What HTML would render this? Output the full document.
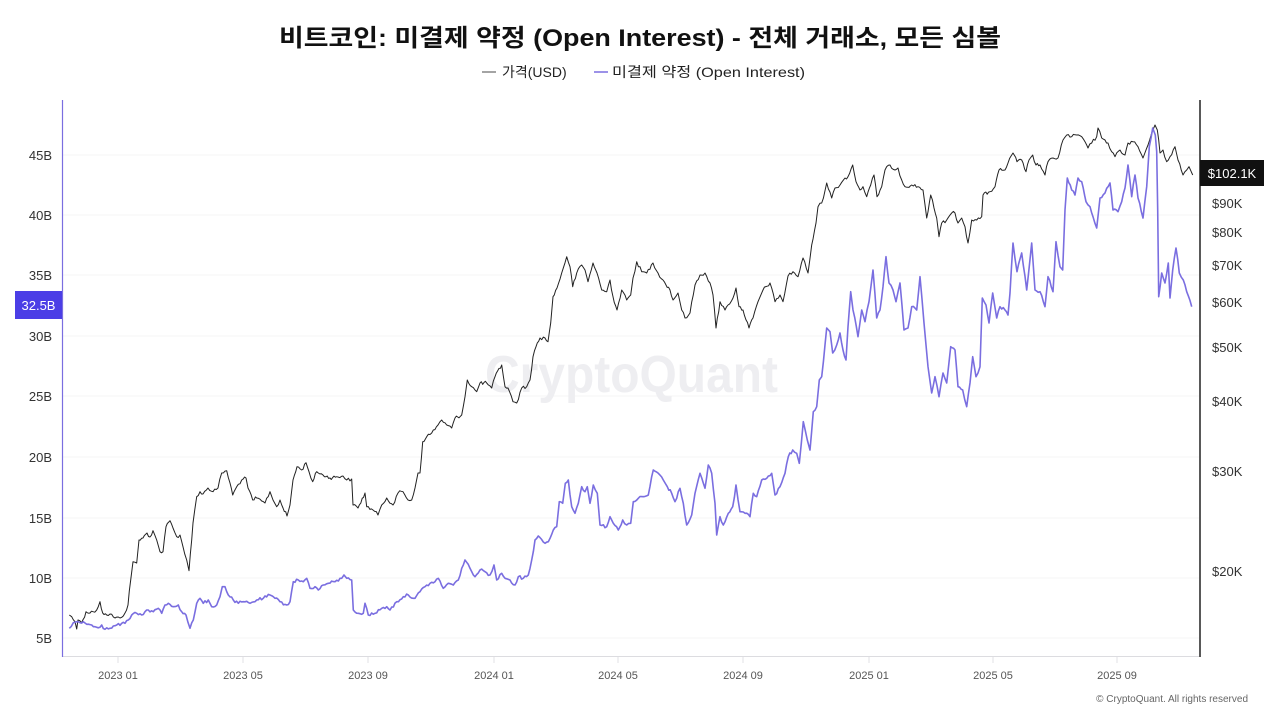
<!DOCTYPE html>
<html>
<head>
<meta charset="utf-8">
<style>
html,body{margin:0;padding:0;background:#fff;}
body{width:1280px;height:720px;overflow:hidden;}
svg{display:block;font-family:"Liberation Sans","Noto Sans CJK KR",sans-serif;}
</style>
</head>
<body>
<svg width="1280" height="720" viewBox="0 0 1280 720" xmlns="http://www.w3.org/2000/svg">
<rect width="1280" height="720" fill="#fff"/>
<!-- title -->
<text x="640" y="46" text-anchor="middle" font-size="24" font-weight="bold" fill="#111" textLength="722" lengthAdjust="spacingAndGlyphs" font-family="'Liberation Sans','Noto Sans CJK KR',sans-serif">비트코인: 미결제 약정 (Open Interest) - 전체 거래소, 모든 심볼</text>
<!-- legend -->
<line x1="482" y1="72" x2="496" y2="72" stroke="#666" stroke-width="1.2"/>
<text x="502" y="77" font-size="14" fill="#222">가격(USD)</text>
<line x1="594" y1="72" x2="608" y2="72" stroke="#7a6ee0" stroke-width="1.5"/>
<text x="612" y="77" font-size="14" fill="#222" textLength="193" lengthAdjust="spacingAndGlyphs">미결제 약정 (Open Interest)</text>

<!-- gridlines -->
<g stroke="#f4f4f6" stroke-width="1">
<line x1="63" y1="155" x2="1199" y2="155"/>
<line x1="63" y1="215" x2="1199" y2="215"/>
<line x1="63" y1="275" x2="1199" y2="275"/>
<line x1="63" y1="336" x2="1199" y2="336"/>
<line x1="63" y1="396" x2="1199" y2="396"/>
<line x1="63" y1="457" x2="1199" y2="457"/>
<line x1="63" y1="518" x2="1199" y2="518"/>
<line x1="63" y1="578" x2="1199" y2="578"/>
<line x1="63" y1="638" x2="1199" y2="638"/>
</g>
<!-- bottom axis -->
<line x1="63" y1="656.5" x2="1199" y2="656.5" stroke="#dcdce0" stroke-width="1"/>
<g stroke="#e2e2e6" stroke-width="1">
<line x1="118" y1="657" x2="118" y2="663"/>
<line x1="243" y1="657" x2="243" y2="663"/>
<line x1="368" y1="657" x2="368" y2="663"/>
<line x1="494" y1="657" x2="494" y2="663"/>
<line x1="618" y1="657" x2="618" y2="663"/>
<line x1="743" y1="657" x2="743" y2="663"/>
<line x1="869" y1="657" x2="869" y2="663"/>
<line x1="993" y1="657" x2="993" y2="663"/>
<line x1="1117" y1="657" x2="1117" y2="663"/>
</g>
<g font-size="11" fill="#555" text-anchor="middle">
<text x="118" y="679">2023 01</text>
<text x="243" y="679">2023 05</text>
<text x="368" y="679">2023 09</text>
<text x="494" y="679">2024 01</text>
<text x="618" y="679">2024 05</text>
<text x="743" y="679">2024 09</text>
<text x="869" y="679">2025 01</text>
<text x="993" y="679">2025 05</text>
<text x="1117" y="679">2025 09</text>
</g>
<text x="1248" y="702" font-size="10" fill="#666" text-anchor="end">© CryptoQuant. All rights reserved</text>

<!-- watermark -->
<text x="485" y="392" font-size="52" font-weight="bold" fill="#eeeef1" textLength="293" lengthAdjust="spacingAndGlyphs">CryptoQuant</text>

<!-- axes -->
<line x1="62.5" y1="100" x2="62.5" y2="657" stroke="#7a6ee0" stroke-width="1.2"/>
<line x1="1200" y1="100" x2="1200" y2="657" stroke="#222" stroke-width="1.5"/>

<!-- left labels -->
<g font-size="13" fill="#333" text-anchor="end">
<text x="52" y="160">45B</text>
<text x="52" y="220">40B</text>
<text x="52" y="280">35B</text>
<text x="52" y="341">30B</text>
<text x="52" y="401">25B</text>
<text x="52" y="462">20B</text>
<text x="52" y="523">15B</text>
<text x="52" y="583">10B</text>
<text x="52" y="643">5B</text>
</g>
<rect x="15" y="291" width="47" height="28" fill="#4b3ee6"/>
<text x="38.5" y="310" font-size="13" fill="#fff" text-anchor="middle">32.5B</text>

<!-- right labels -->
<g font-size="13" fill="#333">
<text x="1212" y="208">$90K</text>
<text x="1212" y="237">$80K</text>
<text x="1212" y="270">$70K</text>
<text x="1212" y="307">$60K</text>
<text x="1212" y="352">$50K</text>
<text x="1212" y="406">$40K</text>
<text x="1212" y="476">$30K</text>
<text x="1212" y="576">$20K</text>
</g>
<rect x="1200" y="160" width="64" height="26" fill="#111"/>
<text x="1232" y="178" font-size="13" fill="#fff" text-anchor="middle">$102.1K</text>

<!-- price (black) -->
<polyline id="pl-price" fill="none" stroke="#222" stroke-width="1" stroke-linejoin="round" points="69.3,615 71.7,616.7 75,621.7 76.7,629 78,620 81.7,622.7 86,611.7 90,613 93,611.7 96.7,610 100,601.7 102.7,613 106.7,615 110,614 115,618 120,618 125,613 128,605 130.7,580 133,561.7 136.7,563 139,540 143,538 147,533 150,537 153,530.7 156.7,540 160,551.7 163,551.7 166,526.7 170,520.7 173,528 176.7,536.7 180,535 183,546.7 186.7,560 189,570.7 191.7,540 193,523 196.7,496.7 200,491.7 203,494 208,488 213,491.7 218,488 221.7,473 226.7,470.7 230,483 232.7,495 236.7,486.7 241.7,480 246,478 248,488 252.7,500 256.7,498 261.7,501 265,503 270,491.7 273,500 276.7,506.7 280,500 283,508 287,516 290,505 293,480 297,466.7 301.7,470 306,462.7 309,471.7 312.7,481.7 316.7,471.7 323,475 330,478 336.7,476.7 343,476 346.7,480 351.7,479 353,505 358,508 365,493 366.7,506.7 373,510 378,515 381.7,505 386.7,498 393,505 398,493 403,491.7 408,500 411.7,500 415,488 418,473 420,473 422.7,441.7 426.7,436.7 431.7,433 438,425 441.7,420 446.7,425 451.7,428 455,418 461.7,415 465,396.7 467.3,380 471.7,386.7 476.7,391.7 480,383 486.7,383 491.7,388 495,376.7 501.7,365 505,386.7 508,388 513,401.7 516.7,403 521.7,388 526.7,386.7 530,380 533,356.7 536,346.7 540,338 545,338 548,341.7 550.7,323 553,296.7 557,288 561.7,273 566.7,256.7 570,266.7 572.7,286.7 576.7,273 581.7,265 585,270 588,281.7 593,263 597,273 601.7,290 606.7,291.7 610,280 613,296.7 617,310 621.7,290 626.7,300 630.7,295 633,278 636.7,261.7 641.7,271.7 646.7,273 653,263 658,273 663,280 670,290 673,300 678,293 681.7,310 685,318 690,313 695,285 700,275 705,273 710,283 713,295 716,328 720,301.7 725,310 728,305 733,298 736,288 739,306.7 743,310 749,328 753,318 758,301.7 763,290 770,283 775,301.7 780,295 783,301.7 788,276 793,271.7 798,276.7 803,258 808,273 811.7,245 816,223 818,206.7 821.7,203 826.7,183 831.7,198 835,188 840,185 845,178 848,176.7 852.7,165 856,181.7 860,190 863,186.7 866.7,196.7 870.7,185 874,175 877,196.7 881.7,186.7 885,170 890,165 895,170 898,168 901.7,180 905,186.7 911.7,185 918,186.7 923,190 926.7,218 930.7,195 934,208 936.7,218 939,236.7 941.7,223 946.7,220 951.7,213 955,213 958,223 961.7,218 965,226.7 968,243 971.7,220 976.7,220 981.7,216.7 983,195 990,191.7 995,186.7 999,170 1005,170 1008,163 1013,153 1017,161.7 1021.7,160 1026,171.7 1029,160 1032.7,155 1036,165 1040,165 1045,175 1048,161.7 1053,158 1058,158 1063,140 1066.7,135 1071.7,136.7 1076.7,135 1081.7,136.7 1085,141.7 1088,148 1091.7,143 1096.7,136.7 1098,128 1101.7,138 1105,140 1108,143 1111.7,151.7 1115,156.7 1120,150 1125,155 1128,143 1133,141.7 1138,146.7 1143,158 1148,145 1151.7,133 1155,125 1157.3,130 1160,153 1163,150 1166.7,161.7 1170,156.7 1175,146.7 1178,160 1183,175 1186.7,170 1189,166.7 1192.7,175"/>

<!-- open interest (purple) -->
<polyline id="pl-oi" fill="none" stroke="#7a6ee0" stroke-width="1.6" stroke-linejoin="round" points="69.3,628.3 73.3,622.7 78.3,621.7 83.3,621.7 86.7,624.3 91.7,625 96.7,627.3 101.7,625 105,629.3 110,628.3 116.7,625 125,623.3 128.3,620 131.7,615 136.7,613.3 141.7,615 145,611.7 148.3,610 153.3,611.7 158.3,608.3 161.7,613.3 165,605 168.3,603.3 173.3,606.7 178.3,605 181.7,611.7 186,615 190,628.3 193.3,620 196.7,603.3 200,598.3 203.3,603.3 208.3,600 211.7,606.7 216.7,605 220,596.7 222.3,586.7 225,586.7 228.3,595 233.3,600 238.3,603.3 243.3,601.7 250,603.3 256.7,600 263.3,598.3 270,595 275,598.3 280,601.7 286.7,605 290,601.7 293.3,581.7 298.3,580 303.3,581.7 306.7,578.3 310,588.3 315,586.7 318.3,590 323.3,585 328.3,583.3 335,581.7 341.7,578.3 344,575 346.7,578.3 351.7,580 353.3,610 358.3,613.3 363.3,613.3 365,603.3 368.3,615 375,613.3 381.7,608.3 386.7,606.7 390,610 396.7,601.7 403.3,596.7 408.3,595 415,598.3 420,591.7 425,586.7 430,583.3 435,581.7 438.3,578.3 443.3,588.3 448.3,583.3 453.3,585 458.3,580 461.7,568.3 465,560 470,568.3 475,576.7 480,570 485,571.7 490,575 494,565 496.7,580 501.7,573.3 505,578.3 510,580 515,585 518.3,576.7 523.3,578.3 528.3,575 531.7,560 535,540 538.3,536 543.3,542 548.3,541.7 553.3,530 556.7,526.7 559.3,501.7 562.7,503.3 565.3,483.3 568.3,480 571.7,506.7 575,513.3 578.3,503.3 581.7,486.7 585,491.7 587.3,486.7 590,503.3 593.3,485 597.3,493.3 600,525 606.7,526.7 610,516.7 613.3,523.3 618.3,530 622.7,520 626.7,525 630.7,523.3 633.3,501.7 638.3,498.3 643.3,496.7 648.3,495 653.3,470 658.3,473.3 663.3,480 667.3,486.7 671.7,493.3 675,501.7 680,488.3 683.3,503.3 686.7,525 691.7,515 695,493.3 700,473.3 705,488.3 708.3,465 711.7,473.3 715,503.3 716.7,535 720,516.7 723.3,525 728.3,513.3 732.7,506.7 736,485 740,511.7 745,513.3 750,516.7 753.3,493.3 756.7,496.7 761.7,480 766.7,478.3 771.7,473.3 775,495 780,486.7 785,473.3 788.3,456.7 792.7,450 796.7,453.3 799.3,463.3 803.3,421.7 807.3,440 810,450 813.3,411.7 816.7,406.7 819.3,380 821.7,376.7 826.7,328 830,331.7 832.7,353 836.7,345 840,333 843,350 846,360 848,326.7 850.7,291.7 853,310 858,336.7 861.7,310 865,321.7 869,301.7 873,270 876.7,318 880,310 883,286.7 886,256.7 889,283 893,290 896,301.7 900,283 904,330 908,328 911.7,306.7 916.7,310 920,276.7 924,323 928,366.7 931.7,393 935,376.7 939,396.7 943,373 946.7,383 950.7,346.7 955,350 958,386.7 962.7,390 966.7,406.7 970,383 972.7,356.7 976,376.7 980,366.7 982.3,298 986,305 989,323 992.7,293 996.7,318 1000,306.7 1005,310 1008,315 1010,293 1013,243 1017,271.7 1021.7,253 1026.7,290 1031.7,243 1035,290 1040,291.7 1045,306.7 1048,276.7 1053,291.7 1056,241.7 1060,266.7 1062.7,270 1065,210 1067.3,178 1071.7,190 1075,195 1078,178 1081.7,181.7 1086,201.7 1090,206.7 1093,216.7 1096.7,228 1100,198 1105,193 1110,183 1113,210 1118,211.7 1121.7,201.7 1125,188 1128,165 1131.7,196.7 1135,175 1138,198 1143,218 1146.7,186.7 1149.3,146.7 1152.7,128 1155.3,135 1156.7,151.7 1157.7,210 1158.7,296.7 1161.7,273 1165,283 1168.3,263 1170,298 1172.7,270 1176,248 1179.3,273 1183.3,280 1186.7,291.7 1191.7,306.7"/>
</svg>
<script>
(function(){
  var seed = 12345;
  function rnd(){ seed = (seed*1103515245 + 12345) % 2147483648; return seed/2147483648; }
  function roughen(id, step, amp){
    var el = document.getElementById(id);
    if(!el) return;
    var raw = el.getAttribute('points').trim().split(/\s+/).map(function(p){var a=p.split(',');return [parseFloat(a[0]),parseFloat(a[1])];});
    var out = [];
    for(var i=0;i<raw.length-1;i++){
      var a=raw[i], b=raw[i+1];
      out.push(a[0].toFixed(1)+','+a[1].toFixed(1));
      var dx=b[0]-a[0];
      var n=Math.floor(dx/step);
      for(var k=1;k<n;k++){
        var t=k/n;
        var x=a[0]+dx*t, y=a[1]+(b[1]-a[1])*t + (rnd()-0.5)*amp;
        out.push(x.toFixed(1)+','+y.toFixed(1));
      }
    }
    var l=raw[raw.length-1];
    out.push(l[0].toFixed(1)+','+l[1].toFixed(1));
    el.setAttribute('points', out.join(' '));
  }
  roughen('pl-price', 1.3, 3.5);
  roughen('pl-oi', 1.4, 3);
})();
</script>
</body>
</html>
